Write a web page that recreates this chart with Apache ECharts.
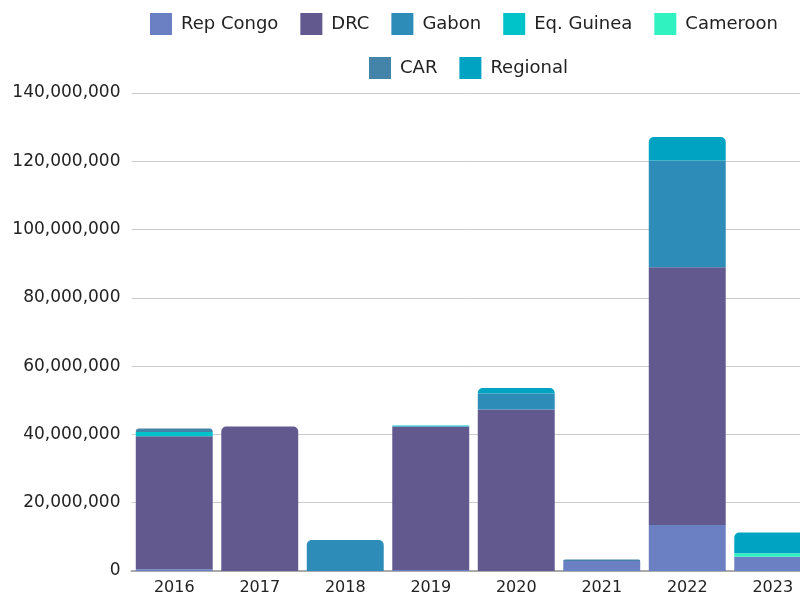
<!DOCTYPE html>
<html>
<head>
<meta charset="utf-8">
<script src="https://cdn.jsdelivr.net/npm/echarts@6/dist/echarts.min.js"></script>
<style>
  html, body { margin: 0; padding: 0; background: #fff; }
  #main { width: 800px; height: 598px; }
</style>
</head>
<body>
<div id="main"></div>
<script>
var chart = echarts.init(document.getElementById('main'));

// data (USD)
var years = ['2016', '2017', '2018', '2019', '2020', '2021', '2022', '2023'];
var seriesNames = ['Rep Congo', 'DRC', 'Gabon', 'Eq. Guinea', 'Cameroon', 'CAR', 'Regional'];
var repCongo  = [500000, 0, 0, 300000, 0, 2900000, 13500000, 4200000];
var drc       = [39000000, 42300000, 0, 42000000, 47300000, 0, 75500000, 0];
var gabon     = [0, 0, 9100000, 0, 4700000, 0, 31200000, 0];
var eqGuinea  = [1200000, 0, 0, 300000, 0, 0, 0, 0];
var cameroon  = [0, 0, 0, 0, 0, 0, 0, 1000000];
var car       = [1000000, 0, 0, 0, 0, 500000, 0, 0];
var regional  = [0, 0, 0, 0, 1600000, 0, 6900000, 6100000];
var yTicks = [0, 140000000, 20000000]; // min, max, interval

var colors = ['#6a80c2', '#625a8f', '#2e8cb9', '#00c3c9', '#2ff2c0', '#4484a8', '#00a3c1'];
var allData = [repCongo, drc, gabon, eqGuinea, cameroon, car, regional];

// round only the top segment of every stack
var topIdx = years.map(function (y, j) {
  var t = -1;
  for (var i = 0; i < allData.length; i++) if (allData[i][j] > 0) t = i;
  return t;
});

var series = seriesNames.map(function (name, i) {
  return {
    name: name,
    type: 'bar',
    stack: 'total',
    barCategoryGap: '10%',
    itemStyle: { color: colors[i] },
    data: allData[i].map(function (v, j) {
      return {
        value: v,
        itemStyle: { borderRadius: topIdx[j] === i ? [5, 5, 0, 0] : 0 }
      };
    })
  };
});

var legendBase = {
  padding: 0,
  itemWidth: 22, itemHeight: 22, itemGap: 22,
  icon: 'rect',
  textStyle: { fontFamily: 'DejaVu Sans', fontSize: 18, color: '#222', padding: [0, 0, 0, 4] }
};

var option = {
  animation: false,
  legend: [
    Object.assign({ data: seriesNames.slice(0, 5), left: 150, top: 13 }, legendBase),
    Object.assign({ data: seriesNames.slice(5), left: 369, top: 57 }, legendBase)
  ],
  // the reference is cropped on the right: the plot runs past the edge
  grid: { left: 131.5, width: 684, top: 93, bottom: 27, containLabel: false, outerBoundsMode: 'none' },
  xAxis: {
    type: 'category',
    data: years,
    axisTick: { show: false },
    axisLine: { show: true, lineStyle: { color: '#aaa', width: 2 } },
    axisLabel: { color: '#222', fontFamily: 'DejaVu Sans', fontSize: 16, margin: 9 }
  },
  yAxis: {
    type: 'value',
    min: yTicks[0],
    max: yTicks[1],
    interval: yTicks[2],
    axisLine: { show: false },
    axisTick: { show: false },
    splitLine: { lineStyle: { color: '#ccc' } },
    axisLabel: {
      color: '#222', fontFamily: 'DejaVu Sans', fontSize: 17, margin: 11,
      formatter: function (v) { return v.toLocaleString('en-US'); }
    }
  },
  series: series
};

chart.setOption(option);
</script>
</body>
</html>
